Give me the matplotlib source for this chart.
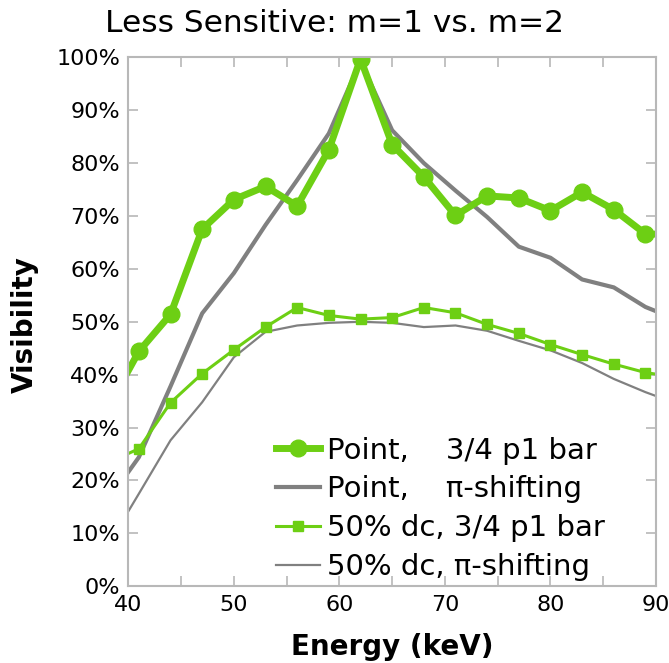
import matplotlib
matplotlib.use('Agg')
import matplotlib.pyplot as plt
from matplotlib.ticker import MultipleLocator, FuncFormatter

# Datos (energia en keV, visibilidad en %)
energy = [38, 41, 44, 47, 50, 53, 56, 59, 62, 65, 68, 71, 74, 77, 80, 83, 86, 89, 92]
point_bar = [33.5, 44.4, 51.4, 67.5, 73.1, 75.6, 71.9, 82.5, 99.7, 83.5, 77.4, 70.1,
             73.8, 73.4, 71.0, 74.5, 71.2, 66.6, 66.5]
point_pi = [16.0, 24.4, 37.8, 51.6, 59.2, 68.3, 76.8, 85.6, 99.3, 86.2, 80.0, 74.8,
            69.8, 64.2, 62.1, 58.0, 56.5, 52.8, 50.4]
dc_bar = [23.3, 26.0, 34.7, 40.2, 44.7, 49.0, 52.7, 51.2, 50.5, 50.8, 52.7, 51.7,
          49.5, 47.8, 45.7, 43.8, 42.0, 40.4, 39.5]
dc_pi = [7.5, 17.5, 27.6, 34.8, 43.3, 48.1, 49.3, 49.8, 50.0, 49.8, 49.0, 49.3,
         48.3, 46.4, 44.6, 42.2, 39.2, 36.7, 34.5]

labels = ['Point,    3/4 p1 bar', 'Point,    \u03c0-shifting',
          '50% dc, 3/4 p1 bar', '50% dc, \u03c0-shifting']

green = '#6dcf14'
gray = '#808080'
edge = '#b8b8b8'

fig = plt.figure(figsize=(6.69, 6.63), dpi=100)
ax = fig.add_axes([0.1918, 0.1157, 0.7888, 0.7979])

# grises primero, verdes encima
l2, = ax.plot(energy, point_pi, color=gray, lw=3.0)
l4, = ax.plot(energy, dc_pi, color=gray, lw=1.6)
l3, = ax.plot(energy, dc_bar, color=green, lw=2.2, marker='s', markersize=7.5)
l1, = ax.plot(energy, point_bar, color=green, lw=5.0, marker='o', markersize=12)

ax.set_xlim(40, 90)
ax.set_ylim(0, 100)
ax.xaxis.set_major_locator(MultipleLocator(10))
ax.xaxis.set_minor_locator(MultipleLocator(5))
ax.yaxis.set_major_locator(MultipleLocator(10))
ax.yaxis.set_major_formatter(FuncFormatter(lambda v, p: f'{v:.0f}%'))

for s in ax.spines.values():
    s.set_color(edge)
    s.set_linewidth(1.5)

ax.tick_params(which='both', direction='in', top=True, right=True,
               length=7, width=1.2, color=edge, labelsize=16, pad=6)

fig.text(0.5, 0.952, 'Less Sensitive: m=1 vs. m=2', ha='center', va='baseline',
         fontsize=22.5)
fig.text(0.586, 0.012, 'Energy (keV)', ha='center', va='baseline',
         fontsize=20, fontweight='bold')
fig.text(0.037, 0.51, 'Visibility', ha='center', va='center', rotation=90,
         fontsize=20, fontweight='bold')

ax.legend([l1, l2, l3, l4], labels, loc='upper left',
          bbox_to_anchor=(0.2795, 0.283), frameon=False, fontsize=21,
          numpoints=1, handlelength=1.5, handletextpad=0.25,
          labelspacing=0.37, borderpad=0, borderaxespad=0)

fig.savefig('out.png', dpi=100)
